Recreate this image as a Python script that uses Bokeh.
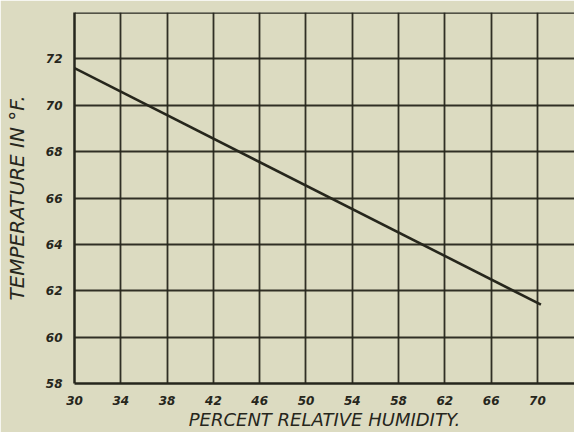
from bokeh.plotting import figure
from bokeh.models import Range1d, FixedTicker, Span
from bokeh.embed import file_html
from bokeh.resources import INLINE

# Temperature required for equal comfort vs. relative humidity
humidity = [30, 70.3]
temperature = [71.6, 61.4]

x_ticks = [30, 34, 38, 42, 46, 50, 54, 58, 62, 66, 70]
y_ticks = [58, 60, 62, 64, 66, 68, 70, 72]
grid_x = x_ticks + [74]
grid_y = y_ticks + [74]

x_title = "PERCENT RELATIVE HUMIDITY."
y_title = "TEMPERATURE IN °F."

paper = "#dcdbc1"
ink = "#26261c"
font = "DejaVu Sans"

p = figure(width=574, height=432, output_backend="svg", toolbar_location=None,
           x_range=Range1d(30, 73.2), y_range=Range1d(58, 74.0),
           min_border_left=74, min_border_right=0, min_border_top=12, min_border_bottom=40,
           background_fill_color=paper, border_fill_color=paper)
p.outline_line_color = None

for ax in (p.xaxis, p.yaxis):
    ax.major_tick_line_color = None
    ax.minor_tick_line_color = None
    ax.axis_line_color = ink
    ax.axis_line_width = 2.5
    ax.major_label_text_font = font
    ax.major_label_text_font_style = "bold italic"
    ax.major_label_text_font_size = "12px"
    ax.major_label_text_color = ink
    ax.axis_label_text_font = font
    ax.axis_label_text_font_style = "italic"
    ax.axis_label_text_color = ink

p.xaxis.ticker = FixedTicker(ticks=x_ticks)
p.yaxis.ticker = FixedTicker(ticks=y_ticks)
p.xaxis.major_label_standoff = 6
p.yaxis.major_label_standoff = 6

p.xaxis.axis_label = x_title
p.yaxis.axis_label = y_title
p.xaxis.axis_label_text_font_size = "18px"
p.yaxis.axis_label_text_font_size = "20px"
p.xaxis.axis_label_standoff = 1
p.yaxis.axis_label_standoff = 14

p.xgrid.ticker = FixedTicker(ticks=grid_x)
p.ygrid.ticker = FixedTicker(ticks=grid_y)
for g in (p.xgrid, p.ygrid):
    g.grid_line_color = ink
    g.grid_line_width = 1.8
    g.grid_line_alpha = 0.95

# heavy top border of the chart frame
p.add_layout(Span(location=74, dimension="width", line_color=ink, line_width=2.5))

p.line(humidity, temperature, line_color=ink, line_width=2.6)

open("out.html", "w").write(file_html(p, INLINE))
